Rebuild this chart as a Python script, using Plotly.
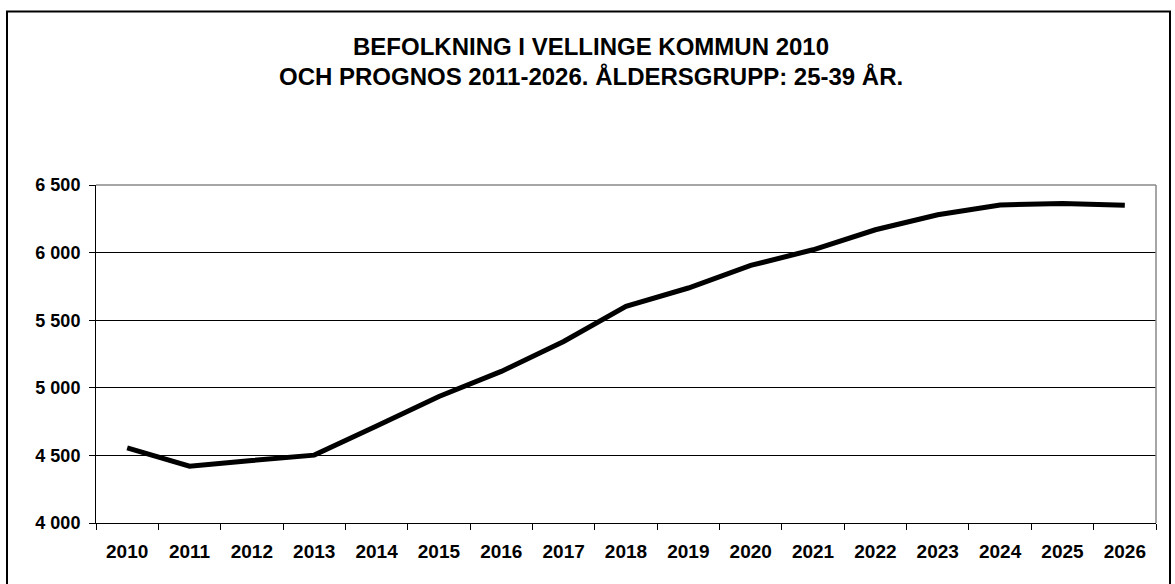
import plotly.graph_objects as go

years = [str(y) for y in range(2010, 2027)]
population = [4555, 4420, 4462, 4502, 4717, 4936, 5121, 5343, 5602, 5738,
              5905, 6021, 6169, 6280, 6352, 6364, 6350]
y_tickvals = [4000, 4500, 5000, 5500, 6000, 6500]
y_ticktext = ["4 000", "4 500", "5 000", "5 500", "6 000", "6 500"]
title_line1 = "BEFOLKNING I VELLINGE KOMMUN 2010"
title_line2 = "OCH PROGNOS 2011-2026. ÅLDERSGRUPP: 25-39 ÅR."

FONT = "Arial, 'Liberation Sans', sans-serif"

fig = go.Figure()
fig.add_trace(go.Scatter(
    x=years, y=population, mode="lines",
    line=dict(color="black", width=5),
    hoverinfo="x+y", showlegend=False,
))

L, R, T, B = 96, 19, 185, 61
W, H = 1175, 584
pw, ph = W - L - R, H - T - B

def px_to_paper_x(px):
    return (px - L) / pw

def px_to_paper_y(py):
    return (H - B - py) / ph

title_font = dict(family=FONT, size=24, color="black", weight="bold")

fig.update_layout(
    width=W, height=H,
    margin=dict(l=L, r=R, t=T, b=B),
    paper_bgcolor="white", plot_bgcolor="white",
    font=dict(family=FONT, color="black"),
    xaxis=dict(
        type="category", range=[-0.5, 16.5],
        showline=True, linecolor="black", linewidth=1,
        ticks="outside", tickson="boundaries", ticklen=6, tickcolor="black",
        tickfont=dict(family=FONT, size=19, color="black", weight="bold"),
        ticklabelstandoff=11,
        showgrid=False, zeroline=False, fixedrange=True,
    ),
    yaxis=dict(
        range=[4000, 6500], tickvals=y_tickvals, ticktext=y_ticktext,
        showline=True, linecolor="black", linewidth=1,
        ticks="outside", ticklen=6, tickcolor="black",
        tickfont=dict(family=FONT, size=18, color="black", weight="bold"),
        ticklabelstandoff=5,
        showgrid=True, gridcolor="black", gridwidth=1,
        zeroline=False, fixedrange=True,
    ),
    annotations=[
        dict(text=title_line1, xref="paper", yref="paper",
             x=px_to_paper_x(591), y=px_to_paper_y(46),
             xanchor="center", yanchor="middle", showarrow=False,
             font=title_font),
        dict(text=title_line2, xref="paper", yref="paper",
             x=px_to_paper_x(591), y=px_to_paper_y(76),
             xanchor="center", yanchor="middle", showarrow=False,
             font=title_font),
    ],
    shapes=[
        dict(type="line", xref="paper", yref="paper", x0=0, x1=1, y0=1, y1=1,
             line=dict(color="#888888", width=1.5)),
        dict(type="line", xref="paper", yref="paper", x0=1, x1=1, y0=0, y1=1,
             line=dict(color="#888888", width=1.5)),
        dict(type="rect", xref="paper", yref="paper",
             x0=px_to_paper_x(7), x1=px_to_paper_x(1170),
             y0=px_to_paper_y(590), y1=px_to_paper_y(11.5),
             line=dict(color="black", width=2), fillcolor="rgba(0,0,0,0)",
             layer="above"),
    ],
)

fig.write_html("out.html", config={"displayModeBar": False},
               post_script="document.body.style.margin='0';")
